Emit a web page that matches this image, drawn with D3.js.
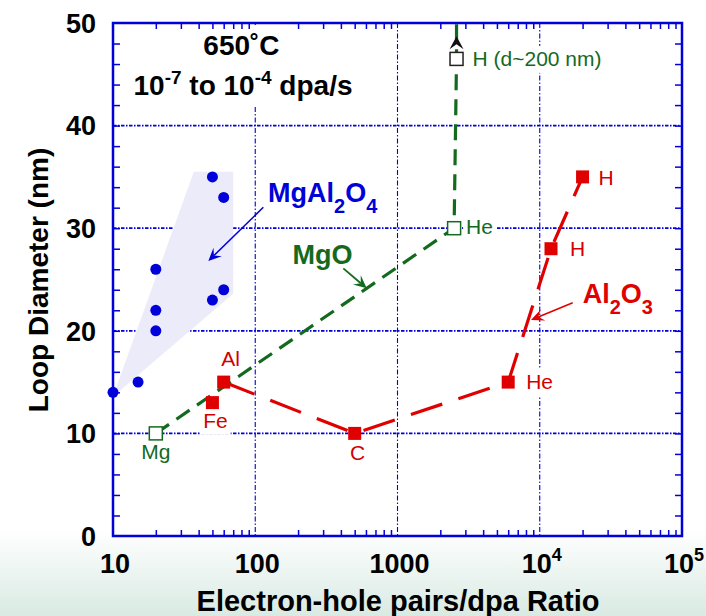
<!DOCTYPE html>
<html><head><meta charset="utf-8">
<script src="https://cdn.jsdelivr.net/npm/d3@7"></script>
<style>
html,body{margin:0;padding:0;background:#fff;}
svg{display:block;font-family:"Liberation Sans",Arial,Helvetica,sans-serif;}
</style></head><body>
<svg id="chart" width="706" height="616"></svg>
<script>
// ---- axis ticks ----
const xMajorTicks = [10, 100, 1000, 10000, 100000];
const xTickBase = ["10", "100", "1000", "10", "10"];
const xTickExp = ["", "", "", "4", "5"];
const yMajorTicks = [0, 10, 20, 30, 40, 50];
const xGrid = [100, 1000, 10000];
const yGrid = [10, 20, 30, 40];

// ---- MgAl2O4: blue circles and shaded range ----
const spinelX = [10, 15, 20, 20, 20, 50, 50, 60, 60];
const spinelY = [14, 15, 20, 22, 26, 23, 35, 24, 33];
const spinelBandX = [37, 70, 70, 10];
const spinelBandY = [35.5, 35.5, 23.6, 13.6];

// ---- MgO: green open squares, dashed ----
const mgoX = [20, 2500, 2600];
const mgoY = [10, 30, 46.5];
const mgoLabels = ["Mg", "He", "H (d~200 nm)"];

// ---- Al2O3: red filled squares, long dashes ----
const aluminaX = [50, 60, 500, 6000, 12000, 20000];
const aluminaY = [13, 15, 10, 15, 28, 35];
const aluminaLabels = ["Fe", "Al", "C", "He", "H", "H"];

const W = 706, H = 616;
const plot = {left: 113, right: 682, top: 23, bottom: 536};
const x = d3.scaleLog().domain([10, 1e5]).range([plot.left, plot.right]);
const y = d3.scaleLinear().domain([0, 50]).range([plot.bottom, plot.top]);

const blue = "#0000d8", green = "#136a1e", red = "#e00000", redText = "#d20000";
const svg = d3.select("#chart");

// background with pale green fade at the bottom
const defs = svg.append("defs");
const grad = defs.append("linearGradient").attr("id", "bg")
  .attr("x1", 0).attr("y1", 0).attr("x2", 0).attr("y2", 1);
grad.append("stop").attr("offset", "0.86").attr("stop-color", "#ffffff");
grad.append("stop").attr("offset", "1").attr("stop-color", "#d9eae3");
svg.append("rect").attr("width", W).attr("height", H).attr("fill", "url(#bg)");

const gGrid = svg.append("g");
const gBand = svg.append("g");
const gBoxes = svg.append("g");
const gLines = svg.append("g");
const gMarks = svg.append("g");
const gText = svg.append("g");
const gAxis = svg.append("g");

// grid
gGrid.selectAll("line.hg").data(yGrid).join("line").attr("class", "hg")
  .attr("x1", plot.left).attr("x2", plot.right)
  .attr("y1", d => y(d)).attr("y2", d => y(d))
  .attr("stroke", blue).attr("stroke-width", 1.7).attr("stroke-dasharray", "3.5,1.5,1.5,1.5");
gGrid.selectAll("line.vg").data(xGrid).join("line").attr("class", "vg")
  .attr("y1", plot.top).attr("y2", plot.bottom)
  .attr("x1", d => x(d)).attr("x2", d => x(d))
  .attr("stroke", blue).attr("stroke-width", 1.1).attr("stroke-dasharray", "5,2,1.5,2");

// shaded MgAl2O4 range
gBand.append("polygon")
  .attr("points", spinelBandX.map((v, i) => [x(v), y(spinelBandY[i])].join(",")).join(" "))
  .attr("fill", "#ebebf9");

const line = d3.line().x(d => x(d[0])).y(d => y(d[1]));

// MgO dashed path, running off the top toward the large H loops
const mgoPts = mgoX.map((v, i) => [v, mgoY[i]]);
gLines.append("path").attr("d", line([...mgoPts, [mgoX[2], 50]]))
  .attr("fill", "none").attr("stroke", green).attr("stroke-width", 3.2)
  .attr("stroke-dasharray", "16,9");

// Al2O3 dashed path (Al -> C -> He -> H -> H)
const aluminaPts = aluminaX.map((v, i) => [v, aluminaY[i]]);
gLines.append("path").attr("d", line(aluminaPts.slice(1)))
  .attr("fill", "none").attr("stroke", red).attr("stroke-width", 3.2)
  .attr("stroke-dasharray", "33,17");

// arrows
function arrow(g, p0, p1, color, width, headLen, headW, notch) {
  const x0 = x(p0[0]), y0 = y(p0[1]), x1 = x(p1[0]), y1 = y(p1[1]);
  const a = Math.atan2(y1 - y0, x1 - x0);
  const ux = Math.cos(a), uy = Math.sin(a), nx = -uy, ny = ux;
  const bx = x1 - ux * headLen, by = y1 - uy * headLen;
  const mx = x1 - ux * headLen * notch, my = y1 - uy * headLen * notch;
  g.append("line").attr("x1", x0).attr("y1", y0).attr("x2", mx).attr("y2", my)
    .attr("stroke", color).attr("stroke-width", width);
  g.append("polygon").attr("points", [
    [x1, y1], [bx + nx * headW, by + ny * headW], [mx, my], [bx - nx * headW, by - ny * headW]
  ].map(p => p.join(",")).join(" ")).attr("fill", color);
}
arrow(gLines, [114, 32.04], [46.8, 26.8], blue, 1.5, 13, 6, 0.6);
arrow(gLines, [416, 26.09], [607.6, 24.14], green, 1.8, 13, 6, 0.6);
arrow(gLines, [17050, 22.74], [8680, 21.05], red, 1.5, 13, 6, 0.6);
// arrowhead on the MgO path pointing off the chart
arrow(gLines, [mgoX[2], 46.5], [mgoX[2], 48.7], "#111", 0.01, 13, 7, 0.6);

// markers
gMarks.selectAll("circle").data(spinelX).join("circle")
  .attr("cx", d => x(d)).attr("cy", (d, i) => y(spinelY[i])).attr("r", 5.5).attr("fill", blue);
gMarks.selectAll("rect.mgo").data(mgoX).join("rect").attr("class", "mgo")
  .attr("x", d => x(d) - 6.5).attr("y", (d, i) => y(mgoY[i]) - 6.5)
  .attr("width", 13).attr("height", 13).attr("fill", "#fff")
  .attr("stroke", (d, i) => i === 2 ? "#222" : green).attr("stroke-width", 1.5);
gMarks.selectAll("rect.al").data(aluminaX).join("rect").attr("class", "al")
  .attr("x", d => x(d) - 6.5).attr("y", (d, i) => y(aluminaY[i]) - 6.5)
  .attr("width", 13).attr("height", 13).attr("fill", red);

// white box behind a text element
function boxBehind(t, pad) {
  const b = t.node().getBBox();
  gBoxes.append("rect").attr("x", b.x - pad).attr("y", b.y - pad + 2)
    .attr("width", b.width + 2 * pad).attr("height", b.height + 2 * pad - 2).attr("fill", "#fff");
}

// point labels
const mgoLabelPlace = [[0, 26, "middle"], [12, 6, "start"], [16, 7, "start"]];
const aluminaLabelPlace = [[3, 25, "middle"], [7, -16, "middle"], [3, 27, "middle"],
  [18, 7, "start"], [19, 7, "start"], [16, 8, "start"]];
mgoLabels.forEach((s, i) => {
  const p = mgoLabelPlace[i];
  const t = gText.append("text").attr("x", x(mgoX[i]) + p[0]).attr("y", y(mgoY[i]) + p[1])
    .attr("text-anchor", p[2]).attr("font-size", 21).attr("fill", green).text(s);
  boxBehind(t, 3);
});
aluminaLabels.forEach((s, i) => {
  const p = aluminaLabelPlace[i];
  const t = gText.append("text").attr("x", x(aluminaX[i]) + p[0]).attr("y", y(aluminaY[i]) + p[1])
    .attr("text-anchor", p[2]).attr("font-size", 21).attr("fill", redText).text(s);
  boxBehind(t, 3);
});

// series names with subscripts
function chem(parts, pos, color) {
  const t = gText.append("text").attr("x", x(pos[0])).attr("y", y(pos[1]))
    .attr("font-size", 27).attr("font-weight", "bold").attr("fill", color);
  parts.forEach(p => {
    if (typeof p === "string") t.append("tspan").text(p);
    else t.append("tspan").attr("font-size", 20).attr("baseline-shift", "-11px").text(p.sub);
  });
  return t;
}
chem(["MgAl", {sub: "2"}, "O", {sub: "4"}], [123, 32.58], blue);
chem(["MgO"], [183, 26.5], green);
chem(["Al", {sub: "2"}, "O", {sub: "3"}], [20050, 22.68], red);

// conditions
const cond = gText.append("g");
cond.append("text").attr("x", x(80)).attr("y", 55).attr("text-anchor", "middle")
  .attr("font-size", 28).attr("font-weight", "bold").attr("fill", "#000").text("650˚C");
const c2 = cond.append("text").attr("x", x(82)).attr("y", 95).attr("text-anchor", "middle")
  .attr("font-size", 28).attr("font-weight", "bold").attr("fill", "#000");
c2.append("tspan").text("10");
c2.append("tspan").attr("font-size", 19).attr("baseline-shift", "11px").text("-7");
c2.append("tspan").text(" to 10");
c2.append("tspan").attr("font-size", 19).attr("baseline-shift", "11px").text("-4");
c2.append("tspan").text(" dpa/s");
{
  const b = cond.node().getBBox();
  gBoxes.append("rect").attr("x", b.x - 6).attr("y", plot.top + 2)
    .attr("width", b.width + 12).attr("height", b.y + b.height + 2 - plot.top).attr("fill", "#fff");
}

// axes: inward ticks on all four sides
const xMinor = [];
xMajorTicks.slice(0, -1).forEach(d => { for (let k = 2; k <= 9; k++) xMinor.push(d * k); });
const yMinor = d3.range(2, 50, 2);
const styleAxis = g => {
  g.select(".domain").remove();
  g.selectAll(".tick line").attr("stroke", blue).attr("stroke-width", 1.5);
};
gAxis.append("g").attr("transform", `translate(0,${plot.bottom})`)
  .call(d3.axisBottom(x).tickValues(xMinor).tickSize(-6).tickFormat("")).call(styleAxis);
gAxis.append("g").attr("transform", `translate(0,${plot.top})`)
  .call(d3.axisTop(x).tickValues(xMinor).tickSize(-6).tickFormat("")).call(styleAxis);
gAxis.append("g").attr("transform", `translate(${plot.left},0)`)
  .call(d3.axisLeft(y).tickValues(yMinor).tickSize(-7).tickFormat("")).call(styleAxis);
gAxis.append("g").attr("transform", `translate(${plot.right},0)`)
  .call(d3.axisRight(y).tickValues(yMinor).tickSize(-7).tickFormat("")).call(styleAxis);
gAxis.append("rect").attr("x", plot.left).attr("y", plot.top)
  .attr("width", plot.right - plot.left).attr("height", plot.bottom - plot.top)
  .attr("fill", "none").attr("stroke", blue).attr("stroke-width", 2.5);

// tick labels
gAxis.selectAll("text.yl").data(yMajorTicks).join("text").attr("class", "yl")
  .attr("x", 96).attr("y", d => y(d)).attr("dy", "0.36em").attr("text-anchor", "end")
  .attr("font-size", 27).attr("font-weight", "bold").attr("fill", "#000").text(d => d);
xMajorTicks.forEach((v, i) => {
  const t = gAxis.append("text").attr("x", x(v) + 2).attr("y", 573).attr("text-anchor", "middle")
    .attr("font-size", 27).attr("font-weight", "bold").attr("fill", "#000");
  t.append("tspan").text(xTickBase[i]);
  if (xTickExp[i]) t.append("tspan").attr("font-size", 18).attr("baseline-shift", "12px").text(xTickExp[i]);
});

// axis titles
gAxis.append("text").attr("x", 398).attr("y", 611).attr("text-anchor", "middle")
  .attr("font-size", 29).attr("font-weight", "bold").attr("fill", "#000")
  .text("Electron-hole pairs/dpa Ratio");
gAxis.append("text").attr("transform", "translate(48,280) rotate(-90)").attr("text-anchor", "middle")
  .attr("font-size", 28).attr("font-weight", "bold").attr("fill", "#000")
  .text("Loop Diameter (nm)");
</script>
</body></html>
